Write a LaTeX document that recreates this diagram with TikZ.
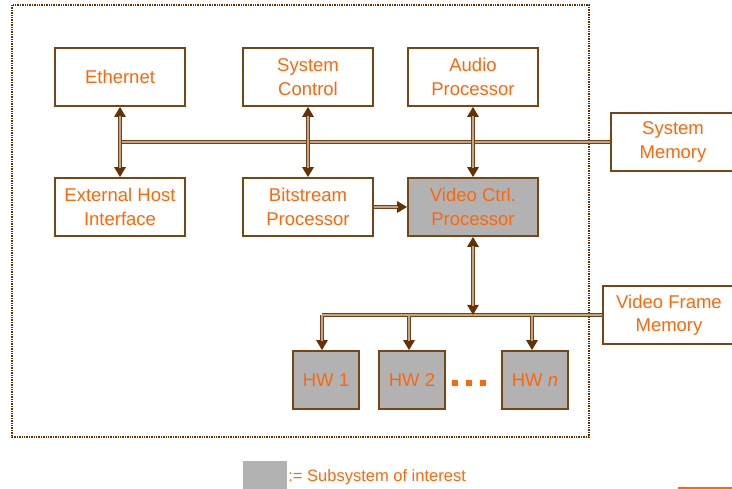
\documentclass[tikz,border=0pt]{standalone}
\usepackage{fontspec}
\setmainfont{Liberation Sans}
\usetikzlibrary{arrows.meta}
\definecolor{boxedge}{RGB}{120,70,20}
\definecolor{tipbrown}{RGB}{100,50,5}
\definecolor{busedge}{RGB}{115,65,20}
\definecolor{busfill}{RGB}{196,164,132}
\definecolor{labelorange}{RGB}{255,102,10}
\definecolor{subgray}{RGB}{178,178,178}
\tikzset{
  block/.style={draw=boxedge, line width=1.6pt, fill=white, minimum width=130pt,
    minimum height=58pt, align=center, text=labelorange, inner sep=0pt,
    font=\fontsize{18.5}{23.5}\selectfont},
  hot/.style={block, fill=subgray},
  hwbox/.style={hot, minimum width=66pt},
  % a bus line: dark outer stroke, light core drawn on top
  busout/.style={draw=busedge, line width=4pt},
  busin/.style={draw=busfill, line width=2.2pt},
  headend/.style={arrows={-Triangle[length=10pt,width=11pt,color=tipbrown]}},
  headboth/.style={arrows={Triangle[length=10pt,width=11pt,color=tipbrown]-Triangle[length=10pt,width=11pt,color=tipbrown]}},
  frame/.style={draw=tipbrown, line width=1.4pt, dash pattern=on 1.4pt off 1pt},
  dotmark/.style={fill=labelorange, minimum width=6pt, minimum height=6pt, inner sep=0pt}
}
\begin{document}
\begin{tikzpicture}[x=1pt,y=-1pt]
\useasboundingbox (0,0) rectangle (732,489);

% subsystem boundary
\draw[frame] (12,5) rectangle (589,437);

% top row
\node[block] (eth) at (120,77) {Ethernet};
\node[block] (sysctl) at (308,77) {System\\Control};
\node[block] (audio) at (473,77) {Audio\\Processor};

% second row
\node[block] (ext) at (120,207) {External Host\\Interface};
\node[block] (bit) at (308,207) {Bitstream\\Processor};
\node[hot] (vctl) at (473,207) {Video Ctrl.\\Processor};

% memories
\node[block, minimum width=124pt] (sysmem) at (673,142) {System\\Memory};
\node[block, minimum width=132pt] (vfmem) at (669,315) {Video Frame\\Memory};

% hardware units
\node[hwbox] (hw1) at (326,380) {HW 1};
\node[hwbox] (hw2) at (412,380) {HW 2};
\node[hwbox] (hwn) at (535,380) {HW \textit{n}};

% ellipsis between the units
\node[dotmark] (d1) at (455,383) {};
\node[dotmark] (d2) at (469,383) {};
\node[dotmark] (d3) at (483,383) {};

% system bus
\coordinate (sbus) at (120,142);
\draw[busout] (sbus) -- (sysmem.west);
\draw[busin] (sbus) -- (sysmem.west);
\draw[busout, headboth] (eth.south) -- (ext.north);
\draw[busin, shorten <=9pt, shorten >=9pt] (eth.south) -- (ext.north);
\draw[busout, headboth] (sysctl.south) -- (bit.north);
\draw[busin, shorten <=9pt, shorten >=9pt] (sysctl.south) -- (bit.north);
\draw[busout, headboth] (audio.south) -- (vctl.north);
\draw[busin, shorten <=9pt, shorten >=9pt] (audio.south) -- (vctl.north);

% bitstream to video controller
\draw[busout, headend] (bit.east) -- (vctl.west);
\draw[busin, shorten >=9pt] (bit.east) -- (vctl.west);

% video bus
\coordinate (vbus1) at (322,315);
\coordinate (vbus2) at (409,315);
\coordinate (vbusn) at (532,315);
\coordinate (vjoin) at (473,315);
\draw[busout] (vbus1) -- (vfmem.west);
\draw[busout, headend] (vbus1) -- (vbus1 |- hw1.north);
\draw[busout, headend] (vbus2) -- (vbus2 |- hw2.north);
\draw[busout, headend] (vbusn) -- (vbusn |- hwn.north);
\draw[busin] (vbus1) -- (vfmem.west);
\draw[busin, shorten >=9pt] (vbus1) -- (vbus1 |- hw1.north);
\draw[busin, shorten >=9pt] (vbus2) -- (vbus2 |- hw2.north);
\draw[busin, shorten >=9pt] (vbusn) -- (vbusn |- hwn.north);
\draw[busout, headboth] (vctl.south) -- (vjoin);
\draw[busin, shorten <=9pt, shorten >=9pt] (vctl.south) -- (vjoin);

% legend
\node[fill=subgray, minimum width=44pt, minimum height=28pt, inner sep=0pt] (key) at (265,475) {};
\node[anchor=base west, text=labelorange, inner sep=0pt, font=\fontsize{16.5}{20}\selectfont] (keytext) at ([xshift=1pt, yshift=-7pt]key.east) {:= Subsystem of interest};

% rule at the lower right
\coordinate (ruleA) at (678,488);
\coordinate (ruleB) at (732,488);
\draw[labelorange, line width=1.5pt] (ruleA) -- (ruleB);
\end{tikzpicture}
\end{document}
